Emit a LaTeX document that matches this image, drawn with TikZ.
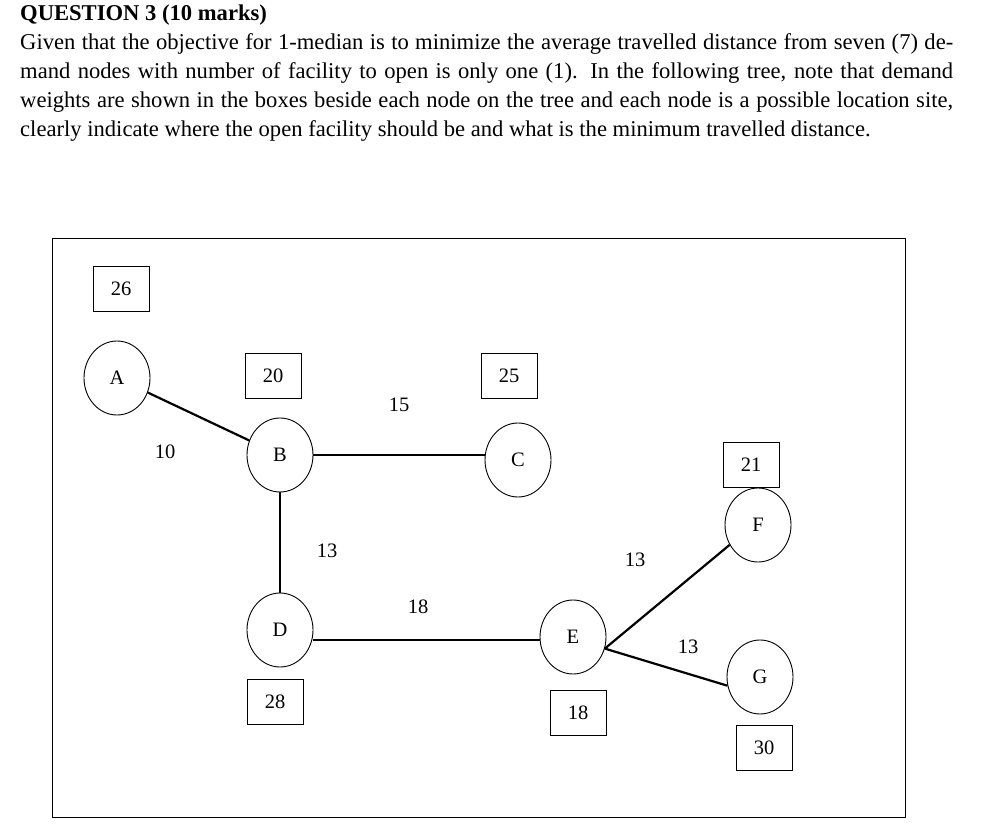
\documentclass[tikz,border=0pt]{standalone}
\usepackage{fontspec}
\setmainfont{Liberation Serif}
\usetikzlibrary{shapes.geometric}
\begin{document}
\begin{tikzpicture}[x=1pt,y=-1pt,
  nd/.style={draw,ellipse,minimum width=66pt,minimum height=74pt,inner sep=0pt,line width=0.9pt,font=\fontsize{20.5}{20.5}\selectfont},
  bx/.style={draw,minimum width=56pt,minimum height=45pt,inner sep=0pt,line width=0.9pt,font=\fontsize{20.5}{20.5}\selectfont},
  lb/.style={font=\fontsize{20.5}{20.5}\selectfont},
  ed/.style={line width=2.2pt}]
\useasboundingbox (0,0) rectangle (996,826);
\node[anchor=north west,inner sep=0pt,text width=933pt,align=justify,font=\fontsize{22.6}{29}\selectfont] (q) at (20,5)
{\textbf{QUESTION 3 (10 marks)}\\ Given that the objective for 1-median is to minimize the average travelled distance from seven (7) demand nodes with number of facility to open is only one (1). In the following tree, note that demand weights are shown in the boxes beside each node on the tree and each node is a possible location site, clearly indicate where the open facility should be and what is the minimum travelled distance.};
\draw[line width=0.9pt] (52,238) rectangle (905,817);
\node[nd] (A) at (117,378) {A};
\node[nd] (B) at (280,455) {B};
\node[nd] (C) at (518,460) {C};
\node[nd] (D) at (280,630) {D};
\node[nd] (E) at (573,637) {E};
\node[nd] (F) at (758,525) {F};
\node[nd] (G) at (760,677) {G};
\node[bx] (bA) at (121,289) {26};
\node[bx] (bB) at (273,376) {20};
\node[bx] (bC) at (509,376) {25};
\node[bx] (bF) at (751,465) {21};
\node[bx] (bD) at (275,702) {28};
\node[bx] (bE) at (578,713) {18};
\node[bx] (bG) at (764,748) {30};
\node[lb] (l1) at (165,452) {10};
\node[lb] (l2) at (399,405) {15};
\node[lb] (l3) at (327,551) {13};
\node[lb] (l4) at (418,607) {18};
\node[lb] (l5) at (635,560) {13};
\node[lb] (l6) at (688,647) {13};
\draw[ed] (A) -- (B);
\draw[ed] (B.east) -- (B.east -| C.west);
\draw[ed] (B) -- (D);
\draw[ed] ([yshift=-10pt]D.east) -- ([yshift=-10pt]D.east -| E.west);
\draw[ed] (E.-20) -- (F.-145);
\draw[ed] (E.-20) -- (G.195);
\end{tikzpicture}
\end{document}
